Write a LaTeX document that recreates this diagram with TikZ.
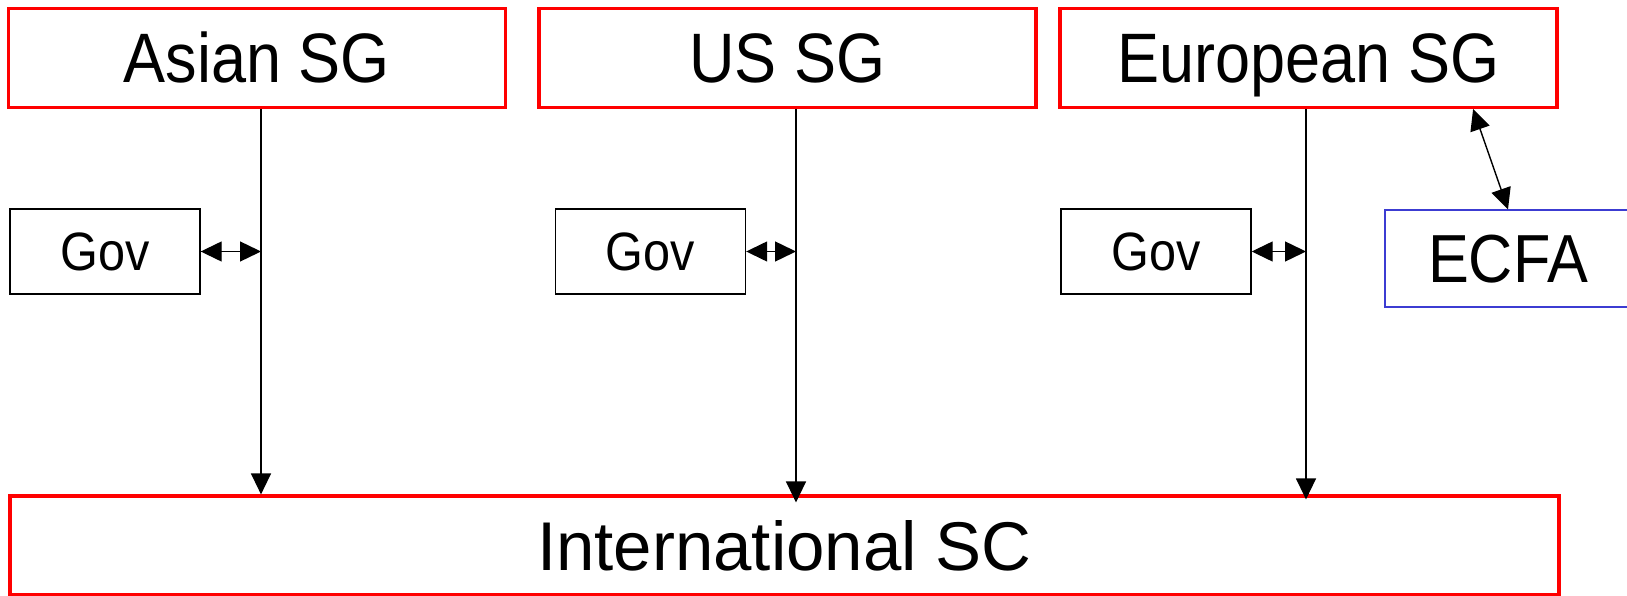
\documentclass[tikz,border=0pt]{standalone}
\usepackage{fontspec}
\setmainfont{Liberation Sans}
\newfontfamily\narrowfont[FakeStretch=0.9]{Liberation Sans}
\usetikzlibrary{arrows.meta}

\definecolor{ecfablue}{RGB}{60,60,210}

\tikzset{
  sg/.style={draw=red, line width=3.2pt, minimum width=497pt, minimum height=99pt, inner sep=0pt,
    font=\narrowfont\fontsize{70}{75}\selectfont, text height=49pt, text depth=0pt},
  gov/.style={draw, line width=1.4pt, minimum width=190pt, minimum height=85pt, inner sep=0pt,
    font=\narrowfont\fontsize{54}{60}\selectfont, text height=38pt, text depth=0pt},
  link/.style={line width=1.4pt, -{Triangle[length=21pt,width=20pt]}},
  both/.style={line width=1.4pt, {Triangle[length=21pt,width=20pt]}-{Triangle[length=21pt,width=20pt]}},
}

\begin{document}
\begin{tikzpicture}[x=1pt, y=-1pt]
\useasboundingbox (0,0) rectangle (1627,596);

% study groups
\node[sg] at (257,57.7) (asian) {Asian SG};
\node[sg] at (787.5,57.7) (us) {US SG};
\node[sg] at (1308.5,58) (euro) {European SG};

% governments
\node[gov] at (105,251.5) (gov1) {Gov};
\node[gov] at (650.5,251.5) (gov2) {Gov};
\node[gov] at (1156,251.5) (gov3) {Gov};

% ECFA box runs past the right edge
\node[draw=ecfablue, line width=1.4pt, anchor=west, minimum height=97pt,
  text width=270pt, align=left, inner xsep=43pt, inner ysep=0pt,
  text height=47pt, text depth=0pt, font=\narrowfont\fontsize{68}{72}\selectfont]
  at (1384.4,258.5) (ecfa) {ECFA};

% steering committee
\node[sg, minimum width=1549pt, font=\fontsize{69}{72}\selectfont] at (784.5,545.5) (intl) {International SC};

% reporting lines
\coordinate (ax) at ([xshift=4pt]asian.south);
\coordinate (ux) at ([xshift=8.5pt]us.south);
\coordinate (ex) at ([xshift=-2.5pt]euro.south);
\draw[link] (ax) -- (ax |- intl.north);
\draw[link, shorten >=-8pt] (ux) -- (ux |- intl.north);
\draw[link, shorten >=-5pt] (ex) -- (ex |- intl.north);

\draw[both] (gov1) -- (gov1 -| ax);
\draw[both] (gov2) -- (gov2 -| ux);
\draw[both] (gov3) -- (gov3 -| ex);

\draw[both] ([xshift=-85.5pt]euro.south east) -- ([xshift=123.6pt]ecfa.north west);
\end{tikzpicture}
\end{document}
